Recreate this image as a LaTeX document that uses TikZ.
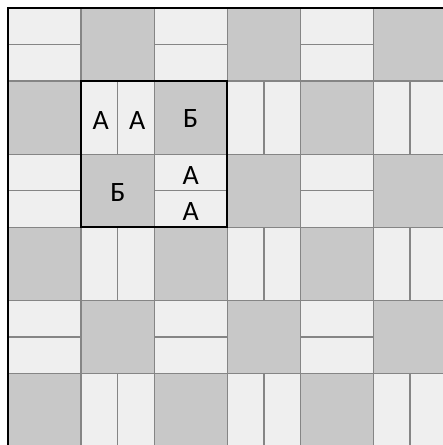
\documentclass[tikz,border=0pt]{standalone}
\usepackage{fontspec}
\setmainfont{Carlito}
\definecolor{tiledark}{HTML}{C8C8C8}
\definecolor{tilelight}{HTML}{EFEFEF}
\definecolor{seam}{HTML}{858585}
\begin{document}
\begin{tikzpicture}[x=1pt,y=-1pt,
  seamline/.style={draw=seam,line width=1.3pt},
  boldline/.style={draw=black,line width=2.2pt},
  lbl/.style={inner sep=0pt,font=\fontsize{28}{28}\selectfont}]
\useasboundingbox (0,0) rectangle (443,445);
\fill[white] (0,0) rectangle (443,445);
\begin{scope}
\clip (0,0) rectangle (443,445);
\foreach \r in {0,...,5}{
  \foreach \c in {0,...,5}{
    \pgfmathsetmacro\xa{8+73.1*\c}
    \pgfmathsetmacro\ya{8+73.1*\r}
    \pgfmathsetmacro\xb{\xa+73.1}
    \pgfmathsetmacro\yb{\ya+73.1}
    \pgfmathsetmacro\xm{\xa+36.55}
    \pgfmathsetmacro\ym{\ya+36.55}
    \pgfmathtruncatemacro\tpar{mod(\r+\c,2)}
    \pgfmathtruncatemacro\rpar{mod(\r,2)}
    \ifnum\tpar=0
      \fill[tilelight] (\xa,\ya) rectangle (\xb,\yb);
      \ifnum\rpar=0
        \draw[seamline] (\xa,\ym) -- (\xb,\ym);
      \else
        \draw[seamline] (\xm,\ya) -- (\xm,\yb);
      \fi
    \else
      \fill[tiledark] (\xa,\ya) rectangle (\xb,\yb);
    \fi
    \draw[seamline] (\xa,\ya) rectangle (\xb,\yb);
  }
}
\end{scope}
\draw[boldline] (8,445) -- (8,8) -- (443,8);
\draw[boldline] (81.1,81.1) rectangle (227.3,227.3);
\node[lbl] (a1) at (100.6,121) {А};
\node[lbl] (a2) at (137.2,121) {А};
\node[lbl] (b1) at (190.7,119) {Б};
\node[lbl] (b2) at (118,192.5) {Б};
\node[lbl] (a3) at (190.7,176) {А};
\node[lbl] (a4) at (190.7,212) {А};
\end{tikzpicture}
\end{document}
